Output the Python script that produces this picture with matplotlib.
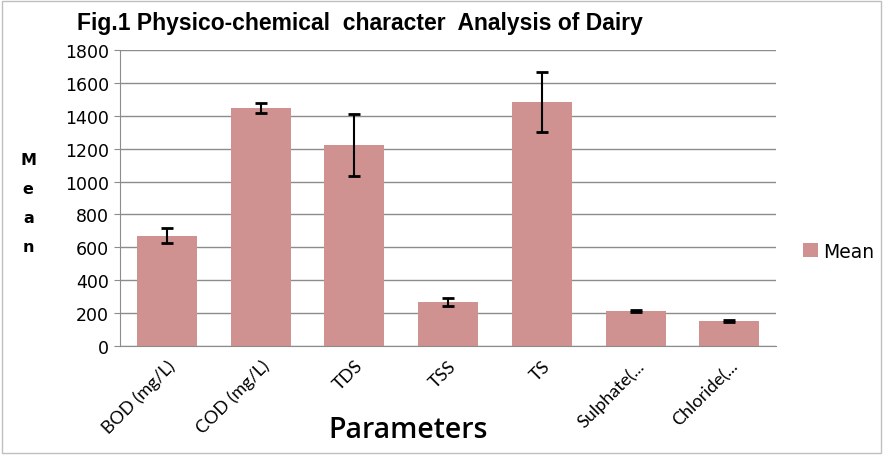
import matplotlib.pyplot as plt
from matplotlib.patches import Rectangle

# data
params = ["BOD (mg/L)", "COD (mg/L)", "TDS", "TSS", "TS", "Sulphate(...", "Chloride(..."]
means = [672, 1448, 1223, 268, 1484, 213, 152]
errors = [45, 30, 190, 25, 180, 5, 5]
yticks = [0, 200, 400, 600, 800, 1000, 1200, 1400, 1600, 1800]

bar_color = "#D09191"
grid_color = "#8C8C8C"

fig = plt.figure(figsize=(8.83, 4.56), dpi=100)
ax = fig.add_axes([0.136, 0.239, 0.743, 0.649])

x = range(len(params))
ax.bar(x, means, width=0.64, color=bar_color, label="Mean", zorder=2)
ax.errorbar(x, means, yerr=errors, fmt="none", ecolor="black",
            elinewidth=1.5, capsize=4.2, capthick=2, zorder=3)

ax.set_xlim(-0.5, len(params) - 0.5)
ax.set_ylim(0, 1800)
ax.set_yticks(yticks)
ax.yaxis.grid(True, color=grid_color, linewidth=1)
ax.set_axisbelow(True)

for s in ["top", "right"]:
    ax.spines[s].set_visible(False)
for s in ["left", "bottom"]:
    ax.spines[s].set_color(grid_color)

ax.tick_params(axis="y", labelsize=12.5, length=4, color=grid_color, pad=4)
ax.tick_params(axis="x", length=0, pad=8)
ax.set_xticks(list(x))
ax.set_xticklabels(params, rotation=45, ha="right", rotation_mode="anchor",
                   fontsize=13, family="Lato")

fig.text(0.462, 0.057, "Parameters", fontsize=20.5, fontweight="semibold",
         family="Open Sans", ha="center", va="center")

fig.text(0.032, 0.553, "M\ne\na\nn", fontsize=11.5, fontweight="bold",
         ha="center", va="center", linespacing=2.15)

fig.text(0.408, 0.948, "Fig.1 Physico-chemical  character  Analysis of Dairy",
         fontsize=16.5, fontweight="bold", fontstretch="normal",
         ha="center", va="center", family="Liberation Sans")

ax.legend(loc="center left", bbox_to_anchor=(1.015, 0.32), frameon=False,
          fontsize=13.5, handlelength=0.8, handleheight=0.8, handletextpad=0.3)

# light outer border like the chart area in Excel
fig.add_artist(Rectangle((0.002, 0.004), 0.996, 0.992, transform=fig.transFigure,
                         fill=False, edgecolor="#BFBFBF", linewidth=1))

fig.savefig("out.png", dpi=100)
